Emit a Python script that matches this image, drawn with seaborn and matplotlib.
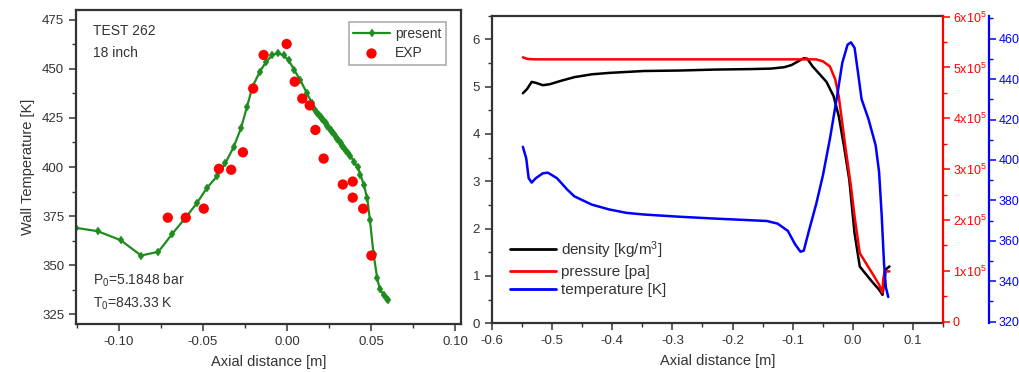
import numpy as np
import pandas as pd
import matplotlib
matplotlib.use("Agg")
import matplotlib.pyplot as plt
from matplotlib.ticker import MultipleLocator, FixedLocator
from matplotlib.lines import Line2D
import seaborn as sns

# ---------------- data: left panel ----------------
present_x = [-0.1255, -0.1126, -0.0989, -0.0868, -0.0765, -0.0683, -0.0610, -0.0536, -0.0477,
             -0.0417, -0.0367, -0.0318, -0.0274, -0.0238, -0.0205, -0.0163, -0.0125, -0.0089,
             -0.0056, -0.0020, 0.0010, 0.0044, 0.0080, 0.0119, 0.0150, 0.0169,
             0.0180, 0.0190, 0.0200, 0.0210, 0.0220, 0.0230, 0.0240, 0.0250, 0.0260,
             0.0270, 0.0280, 0.0290, 0.0300, 0.0310, 0.0320, 0.0330, 0.0340, 0.0350,
             0.0360, 0.0377, 0.0397, 0.0421, 0.0437, 0.0457, 0.0477, 0.0493, 0.0515,
             0.0536, 0.0552, 0.0575, 0.0592, 0.0600]
present_y = [369.0, 367.3, 362.7, 354.9, 356.8, 365.9, 373.5, 381.6, 389.3,
             395.2, 401.9, 410.1, 419.7, 430.7, 441.0, 448.4, 453.5, 456.9,
             458.1, 456.9, 454.4, 449.3, 444.2, 437.5, 432.5, 429.0,
             427.7, 426.6, 425.5, 424.4, 423.3, 422.2, 421.1, 420.0, 418.9,
             417.8, 416.7, 415.5, 414.4, 413.2, 412.0, 410.8, 409.6, 408.4,
             407.2, 405.8, 402.8, 399.9, 396.0, 390.9, 384.2, 373.2, 355.5,
             343.6, 337.7, 335.0, 333.0, 332.3]

exp_x = [-0.0709, -0.0602, -0.0495, -0.0405, -0.0332, -0.0262, -0.0201, -0.0139, -0.0002,
         0.0046, 0.0091, 0.0135, 0.0169, 0.0218, 0.0332, 0.0391, 0.0391, 0.0453, 0.0502]
exp_y = [374.2, 374.2, 378.8, 399.1, 398.6, 407.5, 440.0, 457.1, 462.7,
         443.5, 434.9, 431.4, 418.9, 404.3, 391.1, 392.6, 384.4, 378.8, 354.9]

# ---------------- data: right panel ----------------
dens_x = [-0.5486, -0.5416, -0.534, -0.527, -0.5154, -0.504, -0.486, -0.463, -0.434, -0.405,
          -0.347, -0.288, -0.230, -0.172, -0.137, -0.114, -0.102, -0.090, -0.0815, -0.0757,
          -0.067, -0.055, -0.0437, -0.032, -0.0233, -0.0146, -0.0058, 0.0029, 0.0116,
          0.0204, 0.032, 0.0437, 0.0495, 0.055, 0.061]
dens_y = [4.86, 4.95, 5.10, 5.08, 5.03, 5.05, 5.12, 5.20, 5.26, 5.29,
          5.33, 5.34, 5.36, 5.37, 5.38, 5.41, 5.455, 5.54, 5.60, 5.59,
          5.43, 5.26, 5.10, 4.80, 4.375, 3.74, 3.03, 1.905, 1.20,
          1.06, 0.88, 0.71, 0.60, 1.14, 1.20]

pres_x = [-0.5486, -0.5416, -0.530, -0.45, -0.30, -0.15, -0.061, -0.0495, -0.038, -0.029,
          -0.0233, -0.0175, -0.0116, -0.003, 0.003, 0.0116, 0.032, 0.0437, 0.0495, 0.0505,
          0.053, 0.061]
pres_y = [5.20e5, 5.17e5, 5.16e5, 5.16e5, 5.16e5, 5.16e5, 5.16e5, 5.12e5, 5.02e5, 4.76e5,
          4.43e5, 3.91e5, 3.38e5, 2.66e5, 2.07e5, 1.35e5, 0.96e5, 0.73e5, 0.57e5, 0.83e5,
          0.99e5, 0.99e5]

temp_x = [-0.5486, -0.543, -0.539, -0.534, -0.527, -0.5154, -0.507, -0.492, -0.4747, -0.463,
          -0.434, -0.405, -0.376, -0.347, -0.288, -0.230, -0.172, -0.143, -0.125, -0.108,
          -0.096, -0.087, -0.0815, -0.073, -0.061, -0.0495, -0.038, -0.026, -0.0175,
          -0.0087, -0.003, 0.003, 0.0087, 0.0146, 0.026, 0.038, 0.0437, 0.048, 0.052,
          0.055, 0.059]
temp_y = [406.5, 400.7, 391.0, 388.8, 391.0, 393.4, 393.7, 391.0, 385.3, 382.0,
          377.9, 375.5, 373.8, 373.0, 371.9, 371.0, 370.2, 369.8, 368.5, 364.9,
          358.3, 354.6, 355.1, 364.9, 378.0, 392.6, 410.5, 431.7, 448.0,
          457.0, 458.2, 455.4, 443.2, 430.1, 420.3, 407.3, 394.2, 373.0, 348.5,
          337.0, 332.2]

left_xticks = [-0.10, -0.05, 0.00, 0.05, 0.10]
left_yticks = [325, 350, 375, 400, 425, 450, 475]
right_xticks = [-0.6, -0.5, -0.4, -0.3, -0.2, -0.1, 0.0, 0.1]
dens_ticks = [0, 1, 2, 3, 4, 5, 6]
pres_ticks = [0, 1e5, 2e5, 3e5, 4e5, 5e5, 6e5]
pres_labels = ["0", "1x10$^5$", "2x10$^5$", "3x10$^5$", "4x10$^5$", "5x10$^5$", "6x10$^5$"]
temp_ticks = [320, 340, 360, 380, 400, 420, 440, 460]

# ---------------- style ----------------
sns.set_style("ticks")
plt.rcParams['font.family'] = ['Liberation Sans', 'DejaVu Sans']
plt.rcParams['mathtext.fontset'] = 'custom'
plt.rcParams['mathtext.rm'] = 'Liberation Sans'
plt.rcParams['mathtext.it'] = 'Liberation Sans:italic'
plt.rcParams['xtick.direction'] = 'out'
plt.rcParams['ytick.direction'] = 'out'

TICK_FS = 9.5
LABEL_FS = 10.5
SPINE_C = '#333333'
TXT_C = '#333333'
GREEN = '#1e8c1e'

fig = plt.figure(figsize=(10.19, 3.72), dpi=100)

# ---------------- left panel ----------------
ax1 = fig.add_axes([0.0746, 0.129, 0.3778, 0.844])
df_p = pd.DataFrame({'x': present_x, 'y': present_y})
df_e = pd.DataFrame({'x': exp_x, 'y': exp_y})
sns.lineplot(data=df_p, x='x', y='y', ax=ax1, sort=False, color=GREEN, lw=1.6,
             marker='d', markersize=4.5, markeredgewidth=0.3, markeredgecolor=GREEN,
             label='present')
sns.scatterplot(data=df_e, x='x', y='y', ax=ax1, color='#ff0000', s=55, edgecolor='none',
                label='EXP', zorder=5)
ax1.set_xlim(-0.1255, 0.1035)
ax1.set_ylim(320, 480)
ax1.xaxis.set_major_locator(FixedLocator(left_xticks))
ax1.xaxis.set_minor_locator(MultipleLocator(0.025))
ax1.yaxis.set_major_locator(FixedLocator(left_yticks))
ax1.yaxis.set_minor_locator(MultipleLocator(12.5))
ax1.set_xticklabels([f"{v:.2f}" for v in left_xticks])
ax1.set_xlabel("Axial distance [m]", fontsize=LABEL_FS, color=TXT_C, labelpad=5)
ax1.set_ylabel("Wall Temperature [K]", fontsize=LABEL_FS, color=TXT_C, labelpad=5)
ax1.tick_params(axis='both', which='major', labelsize=TICK_FS, length=5, width=1.1,
                colors=SPINE_C)
ax1.tick_params(axis='both', which='minor', length=3, width=1.0, colors=SPINE_C)
for s in ax1.spines.values():
    s.set_visible(True)
    s.set_linewidth(1.6)
    s.set_color(SPINE_C)
leg1 = ax1.legend(loc='upper right', fontsize=10, frameon=True, fancybox=False,
                  edgecolor='#999999', handlelength=2.6, borderpad=0.35, labelspacing=0.4,
                  handletextpad=0.4, bbox_to_anchor=(0.98, 0.985))
leg1.get_frame().set_linewidth(1.2)
for t in leg1.get_texts():
    t.set_color(TXT_C)
ax1.text(0.045, 0.955, "TEST 262", transform=ax1.transAxes, fontsize=10, va='top',
         color=TXT_C)
ax1.text(0.045, 0.885, "18 inch", transform=ax1.transAxes, fontsize=10, va='top',
         color=TXT_C)
ax1.text(0.045, 0.125, "P$_0$=5.1848 bar", transform=ax1.transAxes, fontsize=10,
         va='baseline', color=TXT_C)
ax1.text(0.045, 0.052, "T$_0$=843.33 K", transform=ax1.transAxes, fontsize=10,
         va='baseline', color=TXT_C)

# ---------------- right panel ----------------
ax2 = fig.add_axes([0.4828, 0.131, 0.4426, 0.827])
ax3 = ax2.twinx()
ax4 = ax2.twinx()
ax4.spines['right'].set_position(('axes', 1.102))

df_d = pd.DataFrame({'x': dens_x, 'y': dens_y})
df_pr = pd.DataFrame({'x': pres_x, 'y': pres_y})
df_t = pd.DataFrame({'x': temp_x, 'y': temp_y})
sns.lineplot(data=df_d, x='x', y='y', ax=ax2, sort=False, color='black', lw=1.8)
sns.lineplot(data=df_pr, x='x', y='y', ax=ax3, sort=False, color='#ff0000', lw=1.8)
sns.lineplot(data=df_t, x='x', y='y', ax=ax4, sort=False, color='#0000ff', lw=1.8)

ax2.set_xlim(-0.6, 0.15)
ax2.set_ylim(0, 6.5)
ax3.set_ylim(-0.3e4, 6.02e5)
ax4.set_ylim(319.2, 471.4)

ax2.xaxis.set_major_locator(FixedLocator(right_xticks))
ax2.xaxis.set_minor_locator(MultipleLocator(0.05))
ax2.set_xticklabels([f"{v:.1f}" for v in right_xticks])
ax2.yaxis.set_major_locator(FixedLocator(dens_ticks))
ax2.yaxis.set_minor_locator(MultipleLocator(0.5))
ax3.yaxis.set_major_locator(FixedLocator(pres_ticks))
ax3.set_yticklabels(pres_labels)
ax3.yaxis.set_minor_locator(MultipleLocator(0.5e5))
ax4.yaxis.set_major_locator(FixedLocator(temp_ticks))
ax4.yaxis.set_minor_locator(MultipleLocator(10))

ax2.set_xlabel("Axial distance [m]", fontsize=LABEL_FS, color=TXT_C, labelpad=5)
ax2.set_ylabel("")
ax3.set_ylabel("")
ax4.set_ylabel("")

ax2.tick_params(axis='both', which='major', labelsize=TICK_FS, length=5, width=1.1,
                colors=SPINE_C)
ax2.tick_params(axis='both', which='minor', length=3, width=1.0, colors=SPINE_C)
ax3.tick_params(axis='y', which='major', labelsize=9, length=5, width=1.1,
                colors='#ff0000', pad=2)
ax3.tick_params(axis='y', which='minor', length=3, width=1.0, colors='#ff0000')
ax4.tick_params(axis='y', which='major', labelsize=9, length=5, width=1.1,
                colors='#0000ff', pad=2)
ax4.tick_params(axis='y', which='minor', length=3, width=1.0, colors='#0000ff')

for s in ['left', 'bottom', 'top']:
    ax2.spines[s].set_linewidth(1.6)
    ax2.spines[s].set_color(SPINE_C)
ax2.spines['right'].set_visible(False)
ax3.spines['right'].set_color('#ff0000')
ax3.spines['right'].set_linewidth(1.6)
for s in ['left', 'top', 'bottom']:
    ax3.spines[s].set_visible(False)
    ax4.spines[s].set_visible(False)
ax4.spines['right'].set_color('#0000ff')
ax4.spines['right'].set_linewidth(1.6)

handles = [Line2D([], [], color='black', lw=2),
           Line2D([], [], color='#ff0000', lw=2),
           Line2D([], [], color='#0000ff', lw=2)]
leg2 = ax4.legend(handles, ["density [kg/m$^3$]", "pressure [pa]", "temperature [K]"],
                  loc='lower left', bbox_to_anchor=(0.01, 0.04), frameon=False,
                  fontsize=11, handlelength=3.0, handletextpad=0.3, labelspacing=0.28)
for t in leg2.get_texts():
    t.set_color(TXT_C)
if ax2.get_legend() is not None:
    ax2.get_legend().remove()

fig.savefig("out.png", dpi=100)
